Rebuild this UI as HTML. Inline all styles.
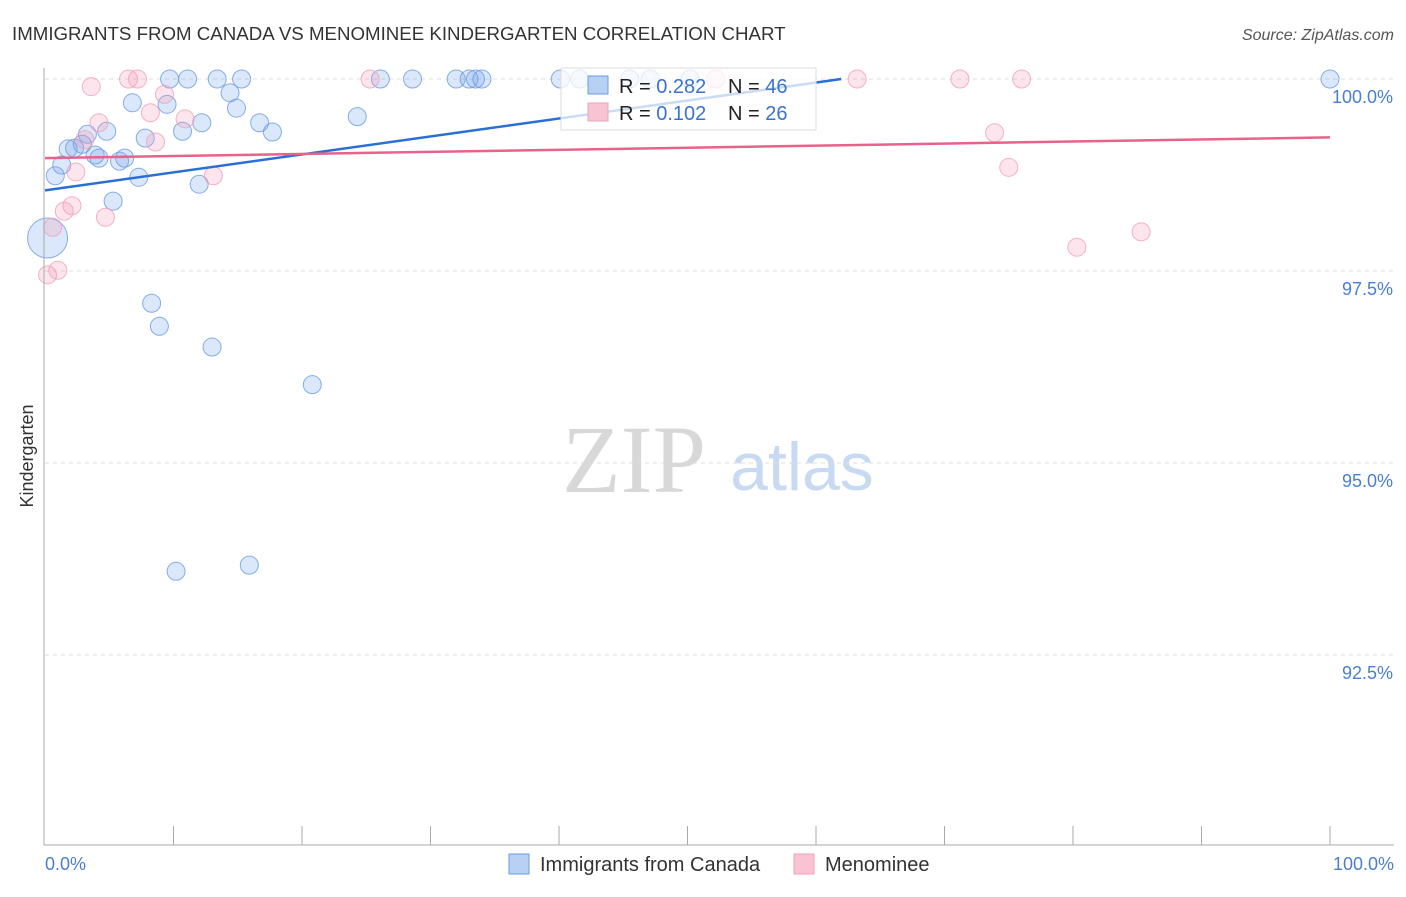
<!DOCTYPE html>
<html><head><meta charset="utf-8"><style>
body{margin:0;background:#fff;font-family:"Liberation Sans",sans-serif}
</style></head><body>
<svg width="1406" height="892" id="c" xmlns="http://www.w3.org/2000/svg">
<text x="12" y="40" font-size="18.7" fill="#333">IMMIGRANTS FROM CANADA VS MENOMINEE KINDERGARTEN CORRELATION CHART</text>
<text x="1394" y="40" font-size="16" fill="#555" font-style="italic" text-anchor="end">Source: ZipAtlas.com</text>
<text x="634" y="492" font-size="96" fill="#d8d8d8" font-family="Liberation Serif,serif" text-anchor="middle">ZIP</text>
<text x="802" y="490" font-size="68" fill="#c8daf2" text-anchor="middle">atlas</text>
<g id="grid"></g><g id="pts"></g><g id="lines"></g>
<line x1="44" y1="68" x2="44" y2="845" stroke="#aaa"/>
<line x1="44" y1="845" x2="1394" y2="845" stroke="#aaa"/>
<text x="33" y="456" font-size="18" fill="#333" transform="rotate(-90 33 456)" text-anchor="middle">Kindergarten</text>
<text x="45" y="870" font-size="18" fill="#4a7fd0">0.0%</text>
<text x="1394" y="870" font-size="18" fill="#4a7fd0" text-anchor="end">100.0%</text>
<g>
<rect x="561" y="68" width="255" height="62" fill="#fff" fill-opacity="0.75" stroke="#ddd"/>
<rect x="588" y="76" width="20" height="18" fill="#b8d0f4" stroke="#6a9be0"/>
<rect x="588" y="103" width="20" height="18" fill="#f8c4d4" stroke="#f0a0b8"/>
<text x="619" y="93" font-size="20" fill="#222">R = <tspan fill="#3a72d0">0.282</tspan><tspan x="728">N = </tspan><tspan fill="#3a72d0">46</tspan></text>
<text x="619" y="120" font-size="20" fill="#222">R = <tspan fill="#3a72d0">0.102</tspan><tspan x="728">N = </tspan><tspan fill="#3a72d0">26</tspan></text>
</g>
<g><rect x="509" y="854" width="20" height="20" fill="#b8d0f4" stroke="#6a9be0"/><text x="540" y="871" font-size="20" fill="#333">Immigrants from Canada</text></g>
<g><rect x="794" y="854" width="20" height="20" fill="#f8c4d4" stroke="#f0a0b8"/><text x="825" y="871" font-size="20" fill="#333">Menominee</text></g>
</svg>
<script>
const yTicks=[100,97.5,95,92.5];
const yTickLabels=["100.0%","97.5%","95.0%","92.5%"];
const blueX=[0.8,1.3,1.8,2.3,2.9,3.3,3.9,4.2,4.8,5.3,5.8,6.2,6.8,7.3,7.8,8.3,8.9,9.5,9.7,10.2,10.7,11.1,12.0,12.2,13.0,13.4,14.4,14.9,15.3,15.9,16.7,17.7,20.8,24.3,26.1,28.6,32.0,33.0,33.5,34.0,40.1,41.6,45.5,47.1,50.2,100];
const blueY=[98.74,98.88,99.09,99.10,99.15,99.28,99.01,98.97,99.32,98.41,98.93,98.97,99.69,98.72,99.23,97.08,96.78,99.67,100,93.59,99.32,100,98.63,99.43,96.51,100,99.82,99.62,100,93.67,99.43,99.31,96.02,99.51,100,100,100,100,100,100,100,100,100,100,100,100];
const pinkX=[0.2,1.0,0.6,1.5,2.1,2.4,3.1,3.6,4.2,4.7,6.5,7.2,8.2,8.6,9.3,10.9,13.1,25.3,52.2,63.2,71.2,73.9,75.0,76.0,80.3,85.3];
const pinkY=[97.45,97.51,98.07,98.28,98.35,98.79,99.21,99.90,99.43,98.20,100,100,99.56,99.18,99.80,99.48,98.74,100,100,100,100,99.30,98.85,100,97.81,98.01];
const bigX=[0.2], bigY=[97.93];
const blueTrend=[98.55,0.0234], pinkTrend=[98.97,0.0027];
const X=v=>45+v*12.85, Y=v=>79+(100-v)*76.8;
const NS="http://www.w3.org/2000/svg";
const mk=(t,a,p)=>{const e=document.createElementNS(NS,t);for(const k in a)e.setAttribute(k,a[k]);p.appendChild(e);return e;};
const g=document.getElementById('grid');
yTicks.forEach((t,i)=>{
 const l=mk('line',{x1:45,x2:1394,y1:Y(t),y2:Y(t),stroke:'#ddd','stroke-dasharray':'4 4'},g);
 
 
 const tx=mk('text',{x:1393,y:Y(t)+24,'font-size':18,fill:'#4a7fd0','text-anchor':'end'},g);
 tx.textContent=yTickLabels[i];
 
 
});
for(let i=1;i<=10;i++){
 const l=mk('line',{x1:X(i*10),x2:X(i*10),y1:826,y2:845,stroke:'#aaa'},g);
 
 
}
const p=document.getElementById('pts');
function dots(xs,ys,r,fill,stroke,name){xs.forEach((x,i)=>{
 const c=mk('circle',{cx:X(x),cy:Y(ys[i]),r:r,fill:fill,stroke:stroke,'stroke-width':1,'stroke-opacity':0.8},p);
 
 
});}
dots(blueX,blueY,9,'rgba(110,160,235,0.25)','#6a9be0','canada-point');
dots(bigX,bigY,20,'rgba(110,160,235,0.25)','#6a9be0','canada-point');
dots(pinkX,pinkY,9,'rgba(245,150,180,0.25)','#f0a0b8','menominee-point');
const L=document.getElementById('lines');
const xEnd=(100-blueTrend[0])/blueTrend[1];
const b=mk('line',{x1:X(0),y1:Y(blueTrend[0]),x2:X(xEnd),y2:Y(100),stroke:'#2a6fd6','stroke-width':2.5},L);


const pk=mk('line',{x1:X(0),y1:Y(pinkTrend[0]),x2:X(100),y2:Y(pinkTrend[0]+100*pinkTrend[1]),stroke:'#e8628c','stroke-width':2.5},L);


</script>
</body></html>
